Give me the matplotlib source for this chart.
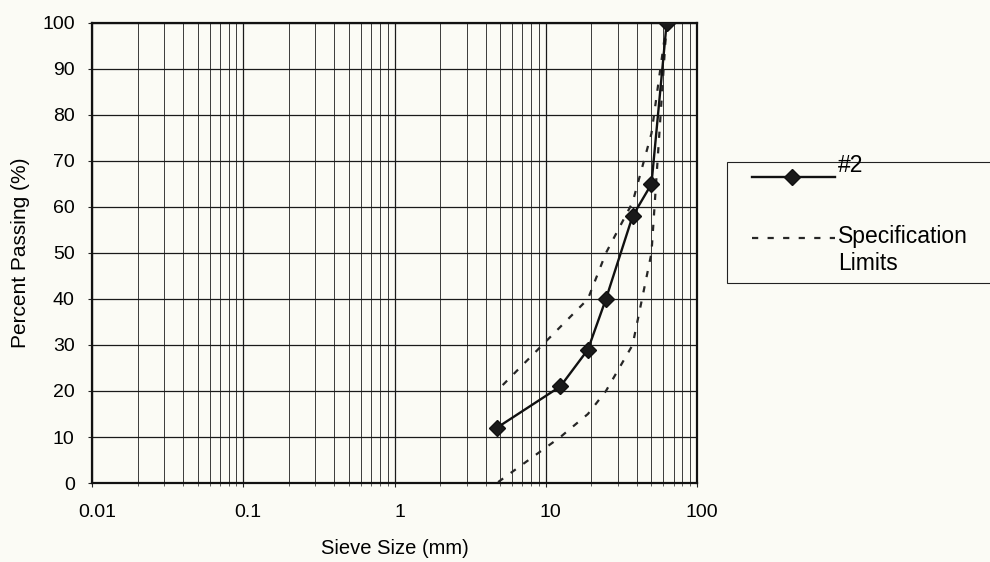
import numpy as np
import matplotlib.pyplot as plt
from matplotlib.lines import Line2D
from matplotlib.patches import Rectangle
from matplotlib.ticker import FixedLocator, NullFormatter
import matplotlib.transforms as mtransforms

plt.rcParams['font.family'] = ['Liberation Sans', 'DejaVu Sans']

# gradation of sample #2 (sieve opening in mm, percent passing)
sieve_2 = [63, 50, 37.5, 25, 19, 12.5, 4.75]
passing_2 = [100, 65, 58, 40, 29, 21, 12]

# specification band
spec_upper_sieve = [63, 50, 37.5, 25, 19, 9.5, 4.75]
spec_upper = [100, 76, 61, 50, 40, 30, 20]
spec_lower_sieve = [63, 50, 37.5, 25, 19, 12.5, 4.75]
spec_lower = [100, 50, 30, 20, 15, 10, 0]

x_ticks = [0.01, 0.1, 1, 10, 100]
x_tick_labels = ['0.01', '0.1', '1', '10', '100']
y_ticks = list(range(0, 101, 10))

W, H = 990, 562
bg = '#fbfbf5'
ink = '#111111'
dash_col = '#262626'
dash = (0, (2.8, 4.2))

fig = plt.figure(figsize=(W / 100, H / 100), dpi=100, facecolor=bg)
ax = fig.add_axes([92 / W, 1 - 483 / H, 605 / W, 460 / H])
ax.set_facecolor(bg)

ax.set_xscale('log')
ax.set_xlim(0.01, 100)
ax.set_ylim(0, 100)

# log grid: majors at decades, minors at 2..9
ax.xaxis.set_major_locator(FixedLocator(x_ticks))
minor = [m * 10.0 ** e for e in range(-2, 2) for m in range(2, 10)]
ax.xaxis.set_minor_locator(FixedLocator(minor))
ax.xaxis.set_minor_formatter(NullFormatter())
ax.set_xticklabels(x_tick_labels)
ax.set_yticks(y_ticks)

ax.grid(True, which='major', axis='both', color='#1a1a1a', lw=0.9)
ax.grid(True, which='minor', axis='x', color='#3a3a3a', lw=0.7)
ax.set_axisbelow(True)

ax.tick_params(axis='both', which='major', labelsize=14, length=3,
               width=0.8, color='#222222')
ax.tick_params(axis='x', which='major', pad=12)
ax.tick_params(axis='y', which='major', pad=9.5)
ax.tick_params(axis='x', which='minor', length=2, width=0.6, color='#444444')
for s in ax.spines.values():
    s.set_linewidth(1.6)
    s.set_color(ink)

# Excel puts the log labels a touch right of their ticks
shift = mtransforms.ScaledTranslation(5 / 100, 0, fig.dpi_scale_trans)
for lab in ax.get_xticklabels():
    lab.set_transform(lab.get_transform() + shift)

ax.plot(spec_upper_sieve, spec_upper, color=dash_col, lw=1.6,
        linestyle=dash, zorder=3)
ax.plot(spec_lower_sieve, spec_lower, color=dash_col, lw=1.6,
        linestyle=dash, zorder=3)
ax.plot(sieve_2, passing_2, color=ink, lw=1.7, marker='D',
        markersize=8.5, markerfacecolor='#1a1a1a', markeredgecolor=ink,
        zorder=4)

ax.set_xlabel('Sieve Size (mm)', fontsize=14.5, labelpad=13)
ax.set_ylabel('Percent Passing (%)', fontsize=15, labelpad=9)


# legend box, laid out in pixel coordinates from the top-left corner
def px(x, y):
    return x / W, 1 - y / H


fig.add_artist(Rectangle(px(727, 283), (W - 727 + 10) / W, 121 / H,
                         transform=fig.transFigure, facecolor=bg,
                         edgecolor='#222222', lw=0.8))
x0, x1 = px(752, 0)[0], px(835, 0)[0]
fig.add_artist(Line2D([x0, x1], [px(0, 177)[1]] * 2, color=ink, lw=1.7,
                      transform=fig.transFigure))
fig.add_artist(Line2D([px(792, 0)[0]], [px(0, 177)[1]], marker='D',
                      markersize=8, color=ink, markerfacecolor='#1a1a1a',
                      transform=fig.transFigure))
fig.add_artist(Line2D([x0, x1], [px(0, 238)[1]] * 2, color=dash_col, lw=1.6,
                      linestyle=dash, transform=fig.transFigure))
fig.text(*px(838, 172), '#2', fontsize=16.5, va='baseline', ha='left')
fig.text(*px(838, 243), 'Specification', fontsize=16.5, va='baseline',
         ha='left')
fig.text(*px(838, 270), 'Limits', fontsize=16.5, va='baseline', ha='left')

fig.savefig('out.png', dpi=100, facecolor=bg)
